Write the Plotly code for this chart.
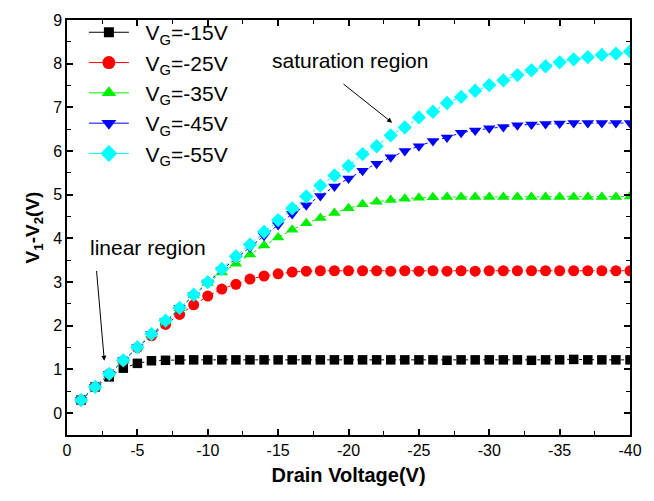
import plotly.graph_objects as go

vd = [-i for i in range(1, 41)]

vg15 = [0.30, 0.60, 0.83, 1.03, 1.14, 1.20, 1.21, 1.22, 1.22, 1.22,
        1.22, 1.22, 1.22, 1.22, 1.22, 1.22, 1.22, 1.22, 1.22, 1.22,
        1.22, 1.22, 1.22, 1.22, 1.22, 1.22, 1.21, 1.22, 1.22, 1.22,
        1.22, 1.22, 1.21, 1.22, 1.22, 1.23, 1.22, 1.22, 1.22, 1.22]
vg25 = [0.30, 0.60, 0.90, 1.20, 1.50, 1.77, 2.03, 2.26, 2.48, 2.68,
        2.84, 2.95, 3.07, 3.14, 3.19, 3.23, 3.25, 3.26, 3.26, 3.26,
        3.26, 3.26, 3.25, 3.26, 3.25, 3.26, 3.25, 3.26, 3.25, 3.26,
        3.26, 3.26, 3.26, 3.26, 3.26, 3.26, 3.26, 3.26, 3.26, 3.26]
vg35 = [0.30, 0.60, 0.90, 1.20, 1.51, 1.81, 2.10, 2.40, 2.70, 2.98,
        3.22, 3.42, 3.63, 3.84, 4.02, 4.20, 4.35, 4.47, 4.58, 4.69,
        4.78, 4.84, 4.88, 4.91, 4.93, 4.94, 4.95, 4.95, 4.95, 4.95,
        4.95, 4.95, 4.95, 4.95, 4.95, 4.95, 4.95, 4.95, 4.95, 4.96]
vg45 = [0.30, 0.60, 0.90, 1.21, 1.51, 1.81, 2.11, 2.41, 2.70, 2.99,
        3.28, 3.55, 3.80, 4.06, 4.31, 4.56, 4.76, 4.97, 5.19, 5.37,
        5.55, 5.71, 5.86, 6.00, 6.11, 6.23, 6.31, 6.42, 6.47, 6.52,
        6.55, 6.59, 6.61, 6.62, 6.63, 6.64, 6.64, 6.64, 6.64, 6.64]
vg55 = [0.30, 0.60, 0.90, 1.21, 1.51, 1.81, 2.12, 2.41, 2.71, 3.00,
        3.30, 3.59, 3.86, 4.15, 4.42, 4.69, 4.96, 5.21, 5.44, 5.66,
        5.93, 6.11, 6.36, 6.54, 6.77, 6.90, 7.10, 7.24, 7.38, 7.51,
        7.62, 7.74, 7.85, 7.94, 8.03, 8.10, 8.15, 8.20, 8.23, 8.28]

series = [
    ("V<sub>G</sub>=-15V", vg15, "black", "square", 9.5, 10),
    ("V<sub>G</sub>=-25V", vg25, "red", "circle", 11, 13),
    ("V<sub>G</sub>=-35V", vg35, "#00ee00", "triangle-up", 11, 13),
    ("V<sub>G</sub>=-45V", vg45, "blue", "triangle-down", 11, 13),
    ("V<sub>G</sub>=-55V", vg55, "#00ffff", "diamond", 11, 13),
]

xticks = [0, -5, -10, -15, -20, -25, -30, -35, -40]
xticklabels = ["0", "-5", "-10", "-15", "-20", "-25", "-30", "-35", "-40"]

fig = go.Figure()
for name, ys, col, sym, sz, lsz in series:
    fig.add_trace(go.Scatter(
        x=vd, y=ys, mode="lines+markers", showlegend=False,
        line=dict(color=col, width=1, dash="dot"),
        marker=dict(symbol=sym, size=sz, color=col, line=dict(width=0)),
    ))
for name, ys, col, sym, sz, lsz in series:
    fig.add_trace(go.Scatter(
        x=[None], y=[None], mode="lines+markers", name="\u00a0\u00a0" + name,
        line=dict(color=col, width=1),
        marker=dict(symbol=sym, size=lsz, color=col, line=dict(width=0)),
    ))

font = "Liberation Sans, Arial, sans-serif"
fig.update_layout(
    width=654, height=501,
    margin=dict(l=67, r=14, t=14, b=66),
    plot_bgcolor="white", paper_bgcolor="white",
    font=dict(family=font, size=16, color="black"),
    showlegend=True,
    legend=dict(x=0.03, y=1.019, xanchor="left", yanchor="top",
                font=dict(size=21), bgcolor="rgba(0,0,0,0)",
                tracegroupgap=0, itemwidth=40),
    xaxis=dict(
        range=[0, -40], tickvals=xticks, ticktext=xticklabels,
        showgrid=False, zeroline=False, showline=True, linecolor="black",
        linewidth=1.5, mirror="allticks", ticks="inside", ticklen=6,
        tickwidth=1.5, tickcolor="black",
        minor=dict(tickvals=[-2.5 - 5 * i for i in range(8)], ticks="inside",
                   ticklen=4, tickwidth=1.2, tickcolor="black"),
        title=dict(text="<b>Drain Voltage(V)</b>", font=dict(size=20), standoff=10),
        tickfont=dict(size=16),
    ),
    yaxis=dict(
        range=[-0.5, 9], dtick=1, tick0=0,
        showgrid=False, zeroline=False, showline=True, linecolor="black",
        linewidth=1.5, mirror="allticks", ticks="inside", ticklen=6,
        tickwidth=1.5, tickcolor="black",
        minor=dict(dtick=0.5, tick0=0.5, ticks="inside", ticklen=4,
                   tickwidth=1.2, tickcolor="black"),
        title=dict(text="<b>V<sub>1</sub>-V<sub>2</sub>(V)</b>", font=dict(size=19), standoff=8),
        tickfont=dict(size=16),
    ),
)

fig.add_annotation(x=-20.1, y=8.08, text="saturation region", showarrow=False,
                   font=dict(size=21))
fig.add_annotation(x=-23.1, y=6.65, ax=-19.54, ay=7.56, axref="x", ayref="y",
                   text="", showarrow=True, arrowhead=2, arrowsize=1,
                   arrowwidth=1, arrowcolor="black")
fig.add_annotation(x=-5.72, y=3.79, text="linear region", showarrow=False,
                   font=dict(size=21))
fig.add_annotation(x=-2.65, y=1.2, ax=-2.09, ay=3.29, axref="x", ayref="y",
                   text="", showarrow=True, arrowhead=2, arrowsize=1,
                   arrowwidth=1, arrowcolor="black")

fig.write_html("out.html")
